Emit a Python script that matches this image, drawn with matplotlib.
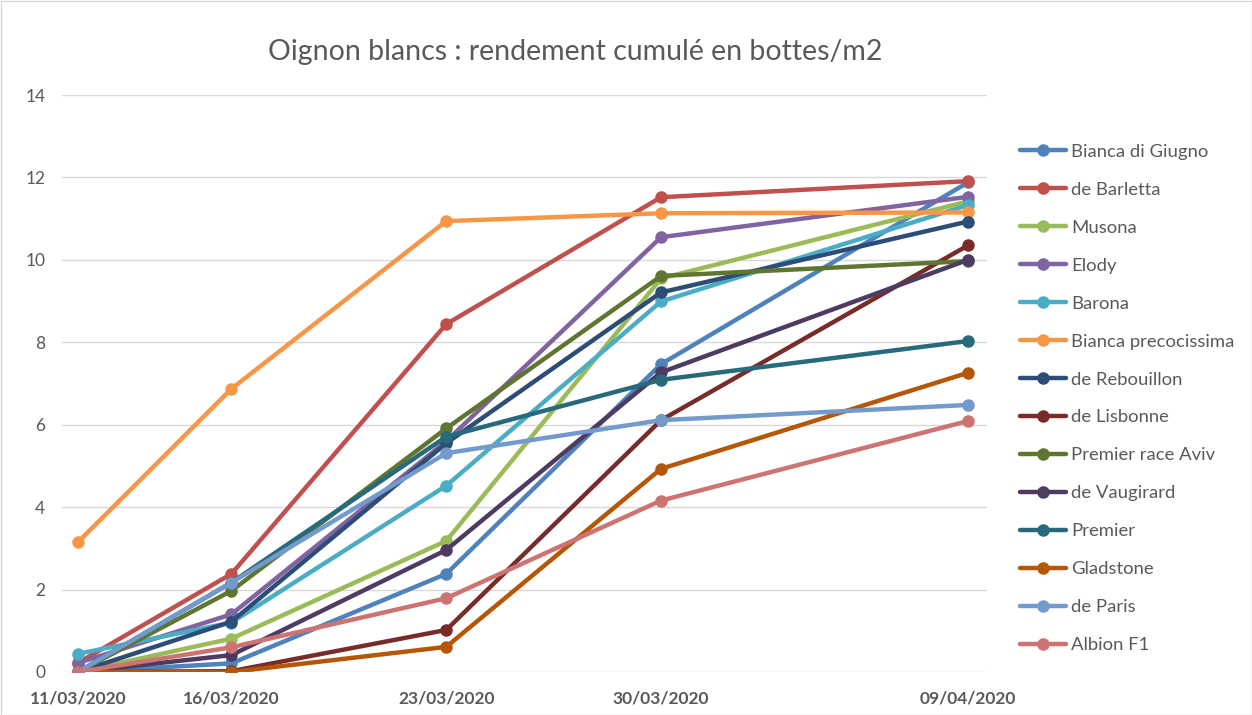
import matplotlib
matplotlib.use("Agg")
import matplotlib.pyplot as plt
import pandas as pd

plt.rcParams['font.family'] = ['Lato', 'DejaVu Sans']

dates = ["2020-03-11", "2020-03-16", "2020-03-23", "2020-03-30", "2020-04-09"]
date_labels = ["11/03/2020", "16/03/2020", "23/03/2020", "30/03/2020", "09/04/2020"]

series_names = ["Bianca di Giugno", "de Barletta", "Musona", "Elody", "Barona",
                "Bianca precocissima", "de Rebouillon", "de Lisbonne",
                "Premier race Aviv", "de Vaugirard", "Premier", "Gladstone",
                "de Paris", "Albion F1"]

bianca_di_giugno = [0.0, 0.21, 2.38, 7.47, 11.88]
de_barletta = [0.22, 2.38, 8.44, 11.52, 11.91]
musona = [0.0, 0.81, 3.18, 9.55, 11.42]
elody = [0.22, 1.40, 5.60, 10.55, 11.53]
barona = [0.44, 1.20, 4.52, 8.99, 11.33]
bianca_precocissima = [3.15, 6.87, 10.94, 11.13, 11.15]
de_rebouillon = [0.0, 1.22, 5.55, 9.21, 10.93]
de_lisbonne = [0.0, 0.02, 1.02, 6.11, 10.35]
premier_race_aviv = [0.0, 1.97, 5.91, 9.61, 9.97]
de_vaugirard = [0.0, 0.41, 2.96, 7.27, 10.0]
premier = [0.0, 2.17, 5.71, 7.09, 8.03]
gladstone = [0.0, 0.0, 0.61, 4.93, 7.26]
de_paris = [0.0, 2.17, 5.31, 6.11, 6.48]
albion_f1 = [0.0, 0.60, 1.79, 4.16, 6.09]

colors = ["#4F81BD", "#C0504D", "#9BBB59", "#8064A2", "#4BACC6", "#F79646",
          "#2C4D75", "#772C2A", "#5F7530", "#4D3B62", "#276A7C", "#B65708",
          "#729ACA", "#CD7371"]

values = [bianca_di_giugno, de_barletta, musona, elody, barona,
          bianca_precocissima, de_rebouillon, de_lisbonne, premier_race_aviv,
          de_vaugirard, premier, gladstone, de_paris, albion_f1]

x = pd.to_datetime(dates)

fig = plt.figure(figsize=(12.52, 7.15), dpi=100)
ax = fig.add_axes([62/1252, 1-672/715, (987-62)/1252, (672-95)/715])

for i, (name, vals, c) in enumerate(zip(series_names, values, colors)):
    ax.plot(x, vals, color=c, lw=3.2, marker='o', markersize=8,
            label=name, zorder=3+i, solid_capstyle='round')

ax.set_ylim(0, 14)
ax.set_yticks(range(0, 15, 2))
ax.set_xlim(x[0] - pd.Timedelta(days=0.52), x[-1] + pd.Timedelta(days=0.62))
ax.set_xticks(x)
ax.set_xticklabels(date_labels, fontweight='bold')
ax.grid(axis='y', color='#D9D9D9', lw=1)
ax.set_axisbelow(True)
for s in ax.spines.values():
    s.set_visible(False)
ax.tick_params(axis='both', length=0, colors='#595959', labelsize=12.5)
ax.tick_params(axis='y', labelsize=12.5, pad=12)
ax.tick_params(axis='x', pad=13)

fig.text(575/1252, 1-52/715, "Oignon blancs : rendement cumulé en bottes/m2",
         ha='center', va='center', fontsize=20.5, color='#595959')

leg = ax.legend(loc='upper left', bbox_to_anchor=(1003/1252, 1-127/715),
                bbox_transform=fig.transFigure, frameon=False, fontsize=13.3,
                labelspacing=1.19, handlelength=2.5, handletextpad=0.3)
for t in leg.get_texts():
    t.set_color('#595959')

border = plt.Rectangle((0.5/1252, 0.5/715), 1-1/1252, 1-1/715, transform=fig.transFigure,
                       fill=False, edgecolor='#D9D9D9', lw=1)
fig.patches.append(border)

fig.savefig("out.png", dpi=100)
